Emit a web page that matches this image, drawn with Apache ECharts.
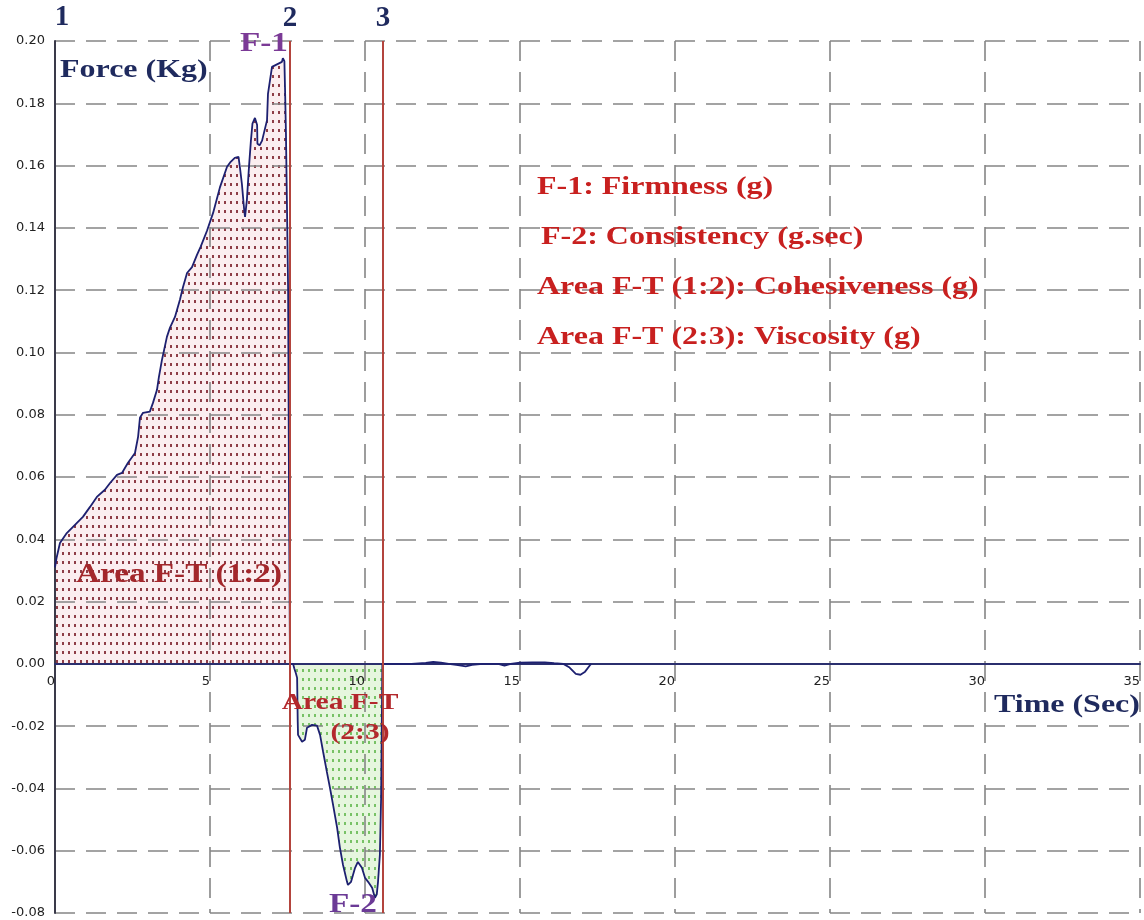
<!DOCTYPE html>
<html>
<head>
<meta charset="utf-8">
<script src="https://cdn.jsdelivr.net/npm/echarts@6/dist/echarts.min.js"></script>
<style>
  html, body { margin: 0; padding: 0; background: #ffffff; }
  #chart { width: 1144px; height: 920px; }
</style>
</head>
<body>
<div id="chart"></div>
<script>
// Force–time curve of a texture (back-extrusion) test
const timeSec = [
  0.00, 0.05, 0.16, 0.38, 0.58, 0.90, 1.13, 1.35, 1.61, 1.77,
  2.00, 2.16, 2.35, 2.58, 2.68, 2.74, 2.84, 3.06, 3.16, 3.29,
  3.35, 3.45, 3.52, 3.61, 3.71, 3.87, 4.03, 4.13, 4.26, 4.42,
  4.58, 4.70, 4.90, 5.10, 5.32, 5.55, 5.65, 5.80, 5.92, 5.97,
  6.03, 6.10, 6.13, 6.19, 6.26, 6.32, 6.37, 6.45, 6.52, 6.53,
  6.60, 6.68, 6.84, 6.87, 7.00, 7.16, 7.32, 7.35, 7.40, 7.42,
  7.45, 7.48, 7.52, 7.55, 7.58,
  7.68, 7.72, 7.77, 7.81, 7.83, 7.84, 7.97, 8.06, 8.13, 8.29,
  8.45, 8.55, 8.65, 8.77, 8.87, 8.97, 9.10, 9.19, 9.29, 9.42,
  9.45, 9.55, 9.68, 9.77, 9.90, 10.00, 10.10, 10.23, 10.32, 10.38,
  10.42, 10.48, 10.52, 10.56,
  11.00, 11.50, 11.96, 12.20, 12.45, 12.70, 13.00, 13.25, 13.45, 13.80,
  14.30, 14.50, 14.70, 15.00, 15.40, 15.80, 16.10, 16.40, 16.60, 16.80,
  16.95, 17.10, 17.25, 17.30
];
const forceKg = [
  0.031, 0.034, 0.0388, 0.042, 0.044, 0.0472, 0.0504, 0.0536, 0.0559, 0.058,
  0.0607, 0.0613, 0.0645, 0.0677, 0.0729, 0.079, 0.0806, 0.081, 0.0838, 0.088,
  0.092, 0.0976, 0.1008, 0.105, 0.108, 0.1114, 0.1169, 0.121, 0.1255, 0.1274,
  0.1313, 0.134, 0.139, 0.1448, 0.153, 0.1596, 0.161, 0.1625, 0.1628, 0.159,
  0.154, 0.146, 0.1435, 0.149, 0.160, 0.168, 0.1735, 0.1753, 0.173, 0.167,
  0.1665, 0.168, 0.1746, 0.183, 0.1917, 0.1925, 0.1933, 0.1945, 0.1935, 0.185,
  0.1705, 0.149, 0.12, 0.053, 0.0,
  0.0, -0.0015, -0.003, -0.0045, -0.0186, -0.0228, -0.025, -0.0244, -0.0205, -0.0196,
  -0.0198, -0.0228, -0.0283, -0.0347, -0.0398, -0.0453, -0.0526, -0.059, -0.0645, -0.070,
  -0.071, -0.0700, -0.0655, -0.0636, -0.0655, -0.0687, -0.070, -0.0719, -0.0751, -0.0740,
  -0.070, -0.0613, -0.043, 0.0,
  0.0, 0.0, 0.0003, 0.0006, 0.0004, 0.0, -0.0004, -0.0008, -0.0003, 0.0,
  0.0, -0.0006, 0.0, 0.0004, 0.0005, 0.0005, 0.0002, 0.0, -0.0012, -0.0032,
  -0.0035, -0.0025, -0.0005, 0.0
];

// Event times (s): 1 = start, 2 = end of compression, 3 = end of withdrawal
const eventTimes = [0, 7.58, 10.58];
const eventNames = ['1', '2', '3'];

// Axis ticks
const xTicks = [0, 5, 10, 15, 20, 25, 30, 35];
const yTicks = [-0.08, -0.06, -0.04, -0.02, 0.00, 0.02, 0.04, 0.06, 0.08, 0.10, 0.12, 0.14, 0.16, 0.18, 0.20];

// Explanatory notes
const noteLines = [
  'F-1: Firmness (g)',
  'F-2: Consistency (g.sec)',
  'Area F-T (1:2): Cohesiveness (g)',
  'Area F-T (2:3): Viscosity (g)'
];

const points = timeSec.map((t, i) => [t, forceKg[i]]);
const compression = points.filter(p => p[0] <= eventTimes[1]);
const withdrawal = points.filter(p => p[0] > eventTimes[1] && p[0] <= eventTimes[2]);

function dotPattern(bg, dot, w, h) {
  const c = document.createElement('canvas');
  c.width = w; c.height = h;
  const g = c.getContext('2d');
  g.fillStyle = bg; g.fillRect(0, 0, w, h);
  g.fillStyle = dot; g.fillRect(2, 3, 2, 3);
  return c;
}
const pinkDots = dotPattern('#fbeef0', '#8e3d47', 6, 9);
const greenDots = dotPattern('#e6f6de', '#78c266', 6, 9);

const SERIF = '"Liberation Serif", "DejaVu Serif", serif';
const SANS = '"DejaVu Sans", "Liberation Sans", sans-serif';

// Plot frame
const W = 1144, H = 920;
const gridBox = { left: 55, right: 4, top: 41, bottom: 7 };
const yMin = yTicks[0], yMax = yTicks[yTicks.length - 1];
const plotH = H - gridBox.top - gridBox.bottom;
// distance from the bottom edge of the plot up to the zero line, for the time axis
const zeroLift = plotH * (0 - yMin) / (yMax - yMin);

const chart = echarts.init(document.getElementById('chart'), null, { renderer: 'canvas' });

function txt(text, x, y, size, color, align, sx) {
  return {
    type: 'text', x: x, y: y, z: 20, scaleX: sx || 1.23,
    style: {
      text: text, fill: color, font: 'bold ' + size + 'px ' + SERIF,
      textAlign: align || 'left', textVerticalAlign: 'middle'
    }
  };
}

const notes = noteLines.map((s, i) => txt(s, i === 1 ? 541 : 537, 187 + i * 50, 26, '#c8201f'));

const dashed = { color: '#858585', width: 1.6, type: [20, 11] };

chart.setOption({
  animation: false,
  backgroundColor: '#ffffff',
  grid: Object.assign({ outerBoundsMode: 'none', containLabel: false }, gridBox),
  xAxis: {
    type: 'value', min: xTicks[0], max: xTicks[xTicks.length - 1], interval: 5, z: 1,
    offset: -zeroLift,
    axisLine: { onZero: false, lineStyle: { color: '#2b2f6e', width: 2 } },
    axisTick: { show: false },
    axisLabel: {
      margin: 11, align: 'right', color: '#222222', fontFamily: SANS, fontSize: 13,
      formatter: v => String(v)
    },
    splitLine: { show: true, lineStyle: dashed }
  },
  yAxis: {
    type: 'value', min: yMin, max: yMax, interval: 0.02, z: 1,
    axisLine: { show: true, onZero: false, lineStyle: { color: '#3a3a4a', width: 2 } },
    axisTick: { show: false },
    axisLabel: {
      margin: 10, color: '#222222', fontFamily: SANS, fontSize: 13,
      formatter: v => v.toFixed(2)
    },
    splitLine: { show: true, lineStyle: dashed }
  },
  series: [
    {
      name: 'Area F-T (1:2)', type: 'line', data: compression, z: 0,
      symbol: 'none', lineStyle: { width: 0 },
      areaStyle: { color: { image: pinkDots, repeat: 'repeat' }, opacity: 1 }
    },
    {
      name: 'Area F-T (2:3)', type: 'line', data: withdrawal, z: 0,
      symbol: 'none', lineStyle: { width: 0 },
      areaStyle: { color: { image: greenDots, repeat: 'repeat' }, opacity: 1 }
    },
    {
      name: 'Force', type: 'line', data: points, z: 3,
      symbol: 'none', lineStyle: { color: '#1d2070', width: 1.8 },
      markLine: {
        silent: true, symbol: 'none', z: 4,
        lineStyle: { color: '#b3443d', width: 2, type: 'solid' },
        label: {
          show: true, position: 'end', distance: 8,
          color: '#1f2a5e', fontFamily: SERIF, fontWeight: 'bold', fontSize: 29,
          formatter: p => p.name
        },
        data: eventTimes.slice(1).map((t, i) => ({ xAxis: t, name: eventNames[i + 1] }))
      }
    }
  ],
  graphic: [
    txt(eventNames[0], 62, 18, 29, '#1f2a5e', 'center', 1),
    txt('Force (Kg)', 60, 70, 26, '#1f2a5e'),
    txt('Time (Sec)', 994, 705, 26, '#1f2a5e'),
    txt('F-1', 264, 44, 27, '#7b3a96', 'center'),
    txt('F-2', 353, 905, 27, '#6b3a96', 'center'),
    txt('Area F-T (1:2)', 179, 575, 27, '#a3272b', 'center'),
    txt('Area F-T', 340, 703, 24, '#b3282c', 'center'),
    txt('(2:3)', 360, 733, 24, '#b3282c', 'center')
  ].concat(notes)
});
</script>
</body>
</html>
